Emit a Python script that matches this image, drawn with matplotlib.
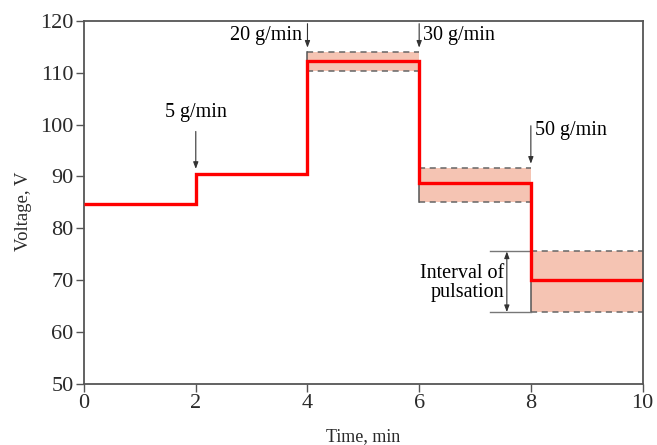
import matplotlib.pyplot as plt
import numpy as np

plt.rcParams['font.family'] = ['Liberation Serif', 'DejaVu Serif']

# step signal (edges of each interval, and mean voltage in it)
t_edges = [0, 2, 4, 6, 8, 10]
voltage = [84.7, 90.4, 112.3, 88.7, 70.0]

# pulsation bands (start, end, low, high)
band_start = [4, 6, 8]
band_end = [6, 8, 10]
band_low = [110.4, 85.1, 63.8]
band_high = [114.0, 91.6, 75.5]

# feed rate labels
feed_x = [2, 4, 6, 8]
feed_labels = ["5 g/min", "20 g/min", "30 g/min", "50 g/min"]

dark = '#555555'

fig, ax = plt.subplots(figsize=(6.57, 4.45), dpi=100)
fig.subplots_adjust(left=0.128, right=0.978, top=0.953, bottom=0.138)

# bands
for x0, x1, lo, hi in zip(band_start, band_end, band_low, band_high):
    ax.fill_between([x0, x1], lo, hi, color='#f5c4b3', lw=0, zorder=1)
    ax.plot([x0, x1], [lo, lo], ls=(0, (4, 3)), color='#666666', lw=1.1, zorder=2)
    ax.plot([x0, x1], [hi, hi], ls=(0, (4, 3)), color='#666666', lw=1.1, zorder=2)
    ax.plot([x0, x0], [lo, hi], color=dark, lw=1.1, zorder=2)

# step line
ax.stairs(voltage, t_edges, color='#ff0000', lw=2.4, baseline=None, zorder=3)

# feed rate arrows
fs = 14.5
arrow_kw = dict(arrowstyle='-|>,head_width=0.15,head_length=0.4', color='#333333', lw=0.8)
ax.annotate('', xy=(2, 90.9), xytext=(2, 99.2), arrowprops=arrow_kw)
ax.text(2, 102.4, feed_labels[0], ha='center', va='center', fontsize=fs)
ax.annotate('', xy=(4, 114.3), xytext=(4, 120), arrowprops=arrow_kw)
ax.text(3.9, 117.1, feed_labels[1], ha='right', va='center', fontsize=fs)
ax.annotate('', xy=(6, 114.3), xytext=(6, 120), arrowprops=arrow_kw)
ax.text(6.07, 117.1, feed_labels[2], ha='left', va='center', fontsize=fs)
ax.annotate('', xy=(8, 91.9), xytext=(8, 100.3), arrowprops=arrow_kw)
ax.text(8.07, 98.9, feed_labels[3], ha='left', va='center', fontsize=fs)

# interval of pulsation marker
ax.plot([7.27, 8], [band_high[2], band_high[2]], color='#777777', lw=1)
ax.plot([7.27, 8], [band_low[2], band_low[2]], color='#777777', lw=1)
ax.annotate('', xy=(7.57, band_high[2]), xytext=(7.57, band_low[2]),
            arrowprops=dict(arrowstyle='<|-|>,head_width=0.15,head_length=0.4',
                            color='#333333', lw=0.8, shrinkA=0, shrinkB=0))
ax.text(7.52, 69.4, "Interval of\npulsation", ha='right', va='center',
        fontsize=fs, linespacing=1.0)

ax.set_xlim(0, 10)
ax.set_ylim(50, 120)
ax.set_xticks(np.arange(0, 11, 2))
ax.set_yticks(np.arange(50, 121, 10))
ax.tick_params(direction='out', length=6, width=1, colors=dark, labelsize=16,
               labelcolor='#2a2a2a', pad=1.5)
for s in ax.spines.values():
    s.set_color(dark)
    s.set_linewidth(1.3)

ax.set_xlabel("Time, min", fontsize=13, color='#2a2a2a')
ax.xaxis.set_label_coords(0.5, -0.122)
ax.set_ylabel("Voltage, V", fontsize=13.5, color='#2a2a2a')
ax.yaxis.set_label_coords(-0.093, 0.475)

fig.savefig('out.png', dpi=100)
